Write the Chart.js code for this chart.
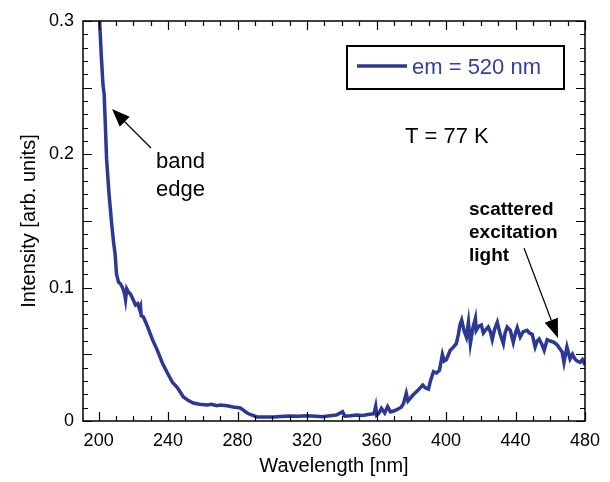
<!DOCTYPE html>
<html>
<head>
<meta charset="utf-8">
<script src="https://cdn.jsdelivr.net/npm/chart.js@4.4.1/dist/chart.umd.min.js"></script>
<style>
  body { margin: 0; background: #ffffff; }
  canvas { display: block; }
</style>
</head>
<body>
<canvas id="myChart" width="610" height="482"></canvas>
<script>
// excitation spectrum, em = 520 nm, T = 77 K
var wavelength = [200.5, 201.5, 202.5, 203.2, 204.6, 206, 207.5, 208.6, 209.5, 210.3, 211.5, 212.5, 213.8, 215.0, 215.5, 216.2, 217.0, 218.4, 219.5, 221.2,
  222.5, 223.5, 224.1, 224.5, 225.8, 228.1, 231.0, 233.8, 236.7, 239.6, 242.5, 245.3, 248.8, 251.5, 254.5, 258, 262.5, 265, 268, 270,
  274, 277.5, 281.5, 285.5, 288, 291.2, 296, 300.4, 305, 309.8, 315, 319.7, 325, 329, 333, 336.9, 340.4, 341.7, 345, 348.4,
  352, 356, 358.5, 359.5, 360.1, 361.5, 362.8, 364.7, 366.4, 368, 369.8, 371.4, 374.2, 375.5, 377.1, 378.1, 381, 383.8, 386.6, 388,
  389.9, 391, 392.8, 394.5, 396.2, 397.9, 399, 400.2, 402.4, 404, 405.9, 407.1, 408, 409, 410.3, 411.7, 412.9, 414, 415.5, 416.9,
  417.4, 418.8, 420.3, 421.5, 422.6, 424.3, 425.5, 426.6, 428, 429.5, 431.2, 433, 434, 435.2, 437, 438.7, 440, 441, 442.7, 444.4,
  446.7, 448, 449.6, 451.3, 452.5, 453.6, 455, 456.5, 458.2, 460, 462.2, 464, 465.6, 466.8, 467.9, 469.6, 471.4, 472.8, 474.2, 475.5,
  477.1, 478.5, 480];
var intensity = [0.302, 0.275, 0.252, 0.245, 0.196, 0.170, 0.148, 0.134, 0.125, 0.110, 0.104, 0.103, 0.100, 0.095, 0.091, 0.099, 0.097, 0.095, 0.092, 0.087,
  0.088, 0.084, 0.086, 0.079, 0.078, 0.071, 0.061, 0.053, 0.0435, 0.036, 0.029, 0.025, 0.018, 0.0155, 0.0135, 0.0125, 0.012, 0.0125, 0.0115, 0.012,
  0.0115, 0.0105, 0.0098, 0.006, 0.0045, 0.003, 0.003, 0.003, 0.0033, 0.0037, 0.0035, 0.004, 0.0035, 0.0032, 0.004, 0.0045, 0.007, 0.0037, 0.004, 0.0045,
  0.0042, 0.005, 0.0055, 0.011, 0.0045, 0.006, 0.0095, 0.006, 0.0107, 0.0068, 0.0075, 0.0083, 0.0103, 0.013, 0.0208, 0.015, 0.0195, 0.023, 0.027, 0.025,
  0.024, 0.030, 0.037, 0.036, 0.038, 0.050, 0.045, 0.046, 0.053, 0.055, 0.058, 0.065, 0.072, 0.0757, 0.068, 0.063, 0.074, 0.058, 0.070, 0.077,
  0.068, 0.071, 0.072, 0.066, 0.068, 0.0705, 0.067, 0.061, 0.069, 0.074, 0.065, 0.058, 0.066, 0.0705, 0.068, 0.059, 0.066, 0.070, 0.063, 0.067,
  0.068, 0.066, 0.065, 0.0555, 0.060, 0.0615, 0.058, 0.053, 0.061, 0.060, 0.059, 0.057, 0.054, 0.052, 0.044, 0.0555, 0.0465, 0.050, 0.0465, 0.045,
  0.044, 0.046, 0.042];
var xTicks = [200, 240, 280, 320, 360, 400, 440, 480];
var yTicks = [0, 0.1, 0.2, 0.3];

var lineColor = '#2b3894';
var fontFam = '"Liberation Sans", Arial, Helvetica, sans-serif';

var points = wavelength.map(function (w, i) { return { x: w, y: intensity[i] }; });

function drawArrow(c, x1, y1, x2, y2, headLen, headW) {
  var ang = Math.atan2(y2 - y1, x2 - x1);
  var bx = x2 - headLen * Math.cos(ang);
  var by = y2 - headLen * Math.sin(ang);
  c.beginPath();
  c.moveTo(x1, y1);
  c.lineTo(bx, by);
  c.stroke();
  c.beginPath();
  c.moveTo(x2, y2);
  c.lineTo(bx + headW / 2 * Math.sin(ang), by - headW / 2 * Math.cos(ang));
  c.lineTo(bx - headW / 2 * Math.sin(ang), by + headW / 2 * Math.cos(ang));
  c.closePath();
  c.fill();
}

// frame with inward ticks on all four sides + annotations
var framePlugin = {
  id: 'framePlugin',
  afterDraw: function (chart) {
    var c = chart.ctx;
    var a = chart.chartArea;
    var xs = chart.scales.x, ys = chart.scales.y;
    c.save();
    c.strokeStyle = '#000';
    c.fillStyle = '#000';
    c.lineWidth = 1.5;
    c.strokeRect(a.left, a.top, a.right - a.left, a.bottom - a.top);

    c.lineWidth = 1.2;
    c.beginPath();
    for (var w = 200; w <= 480; w += 10) {
      var px = Math.round(xs.getPixelForValue(w)) + 0.5;
      var len = (w - 200) % 40 === 0 ? 9 : 5;
      c.moveTo(px, a.bottom); c.lineTo(px, a.bottom - len);
      c.moveTo(px, a.top); c.lineTo(px, a.top + len);
    }
    for (var k = 0; k <= 30; k++) {
      var py = Math.round(ys.getPixelForValue(k / 100)) + 0.5;
      var l2 = k % 5 === 0 ? 9 : 5;
      c.moveTo(a.left, py); c.lineTo(a.left + l2, py);
      c.moveTo(a.right, py); c.lineTo(a.right - l2, py);
    }
    c.stroke();

    // legend box
    c.lineWidth = 2;
    c.strokeRect(347, 46, 217, 43);
    c.strokeStyle = lineColor;
    c.lineWidth = 3.5;
    c.beginPath();
    c.moveTo(357, 66); c.lineTo(407, 66);
    c.stroke();
    c.fillStyle = '#3340a0';
    c.font = '22px ' + fontFam;
    c.textBaseline = 'alphabetic';
    c.textAlign = 'left';
    c.fillText('em = 520 nm', 412, 74);

    c.fillStyle = '#000';
    c.font = '22px ' + fontFam;
    c.fillText('T = 77 K', 405, 143);
    c.fillText('band', 156, 168);
    c.fillText('edge', 156, 196);

    c.font = 'bold 19px ' + fontFam;
    c.fillText('scattered', 469, 215);
    c.fillText('excitation', 469, 238);
    c.fillText('light', 469, 261);

    c.strokeStyle = '#000';
    c.lineWidth = 1.2;
    drawArrow(c, 151, 148, 112, 109, 18, 14);
    drawArrow(c, 524, 248, 558, 338, 19, 14);
    c.restore();
  }
};

const ctx = document.getElementById('myChart');

let chart = new Chart(ctx, {
  type: 'line',
  data: {
    datasets: [{
      label: 'em = 520 nm',
      data: points,
      borderColor: lineColor,
      borderWidth: 3.5,
      pointRadius: 0,
      tension: 0,
      fill: false
    }]
  },
  options: {
    responsive: false,
    animation: false,
    layout: { padding: { top: 21, right: 25, left: 0, bottom: 0 } },
    plugins: {
      legend: { display: false },
      tooltip: { enabled: false }
    },
    scales: {
      x: {
        type: 'linear',
        min: 191,
        max: 480,
        grid: { display: false, drawTicks: false },
        border: { display: false },
        afterBuildTicks: function (scale) {
          scale.ticks = xTicks.map(function (v) { return { value: v }; });
        },
        afterFit: function (scale) { scale.height = 61; },
        ticks: {
          padding: 9,
          color: '#000',
          font: { family: fontFam, size: 18 },
          maxRotation: 0,
          callback: function (v) { return String(v); }
        },
        title: {
          display: true,
          text: 'Wavelength [nm]',
          color: '#000',
          font: { family: fontFam, size: 20 },
          padding: { top: 0, bottom: 4 }
        }
      },
      y: {
        min: 0,
        max: 0.3,
        grid: { display: false, drawTicks: false },
        border: { display: false },
        afterBuildTicks: function (scale) {
          scale.ticks = yTicks.map(function (v) { return { value: v }; });
        },
        afterFit: function (scale) { scale.width = 83; },
        ticks: {
          padding: 9,
          color: '#000',
          font: { family: fontFam, size: 18 },
          callback: function (v) { return v === 0 ? '0' : v.toFixed(1); }
        },
        title: {
          display: true,
          text: 'Intensity [arb. units]',
          color: '#000',
          font: { family: fontFam, size: 20 },
          padding: { top: 17, bottom: 0 }
        }
      }
    }
  },
  plugins: [framePlugin]
});
</script>
</body>
</html>
